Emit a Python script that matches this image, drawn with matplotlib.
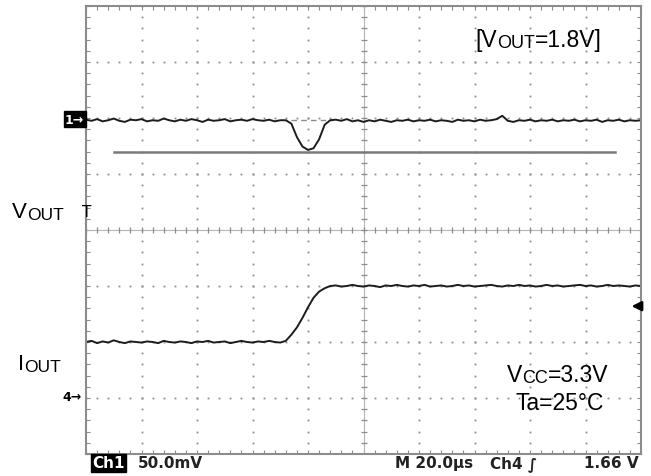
import numpy as np
import matplotlib
matplotlib.use("Agg")
import matplotlib.pyplot as plt

# ===== scope screen: 10 x 8 divisions, values in divisions =====
W, H = 651, 477
X_DIV, Y_DIV = 10, 8

t_ch1 = np.round(np.arange(0, 10.001, 0.1), 2)
ch1_vout = [1.97, 1.95, 1.98, 1.94, 1.96, 1.99, 1.95, 1.93, 1.97, 1.96,
            1.98, 1.94, 1.96, 1.95, 1.99, 1.96, 1.94, 1.97, 1.95, 1.98,
            1.96, 1.93, 1.97, 1.95, 1.96, 1.98, 1.94, 1.96, 1.97, 1.95,
            1.98, 1.96, 1.95, 1.97, 1.94, 1.96,
            1.96, 1.90, 1.66, 1.49, 1.43, 1.46, 1.62, 1.88, 1.96,
            1.97, 1.95, 1.98, 1.94, 1.96,
            1.93, 1.96, 1.94, 1.97, 1.95, 1.93, 1.96, 1.95, 1.97, 1.94,
            1.96, 1.95, 1.97, 1.94, 1.96, 1.95, 1.93, 1.97, 1.95, 1.96,
            1.94, 1.97, 1.95, 1.96, 1.98, 2.04, 1.95, 1.93, 1.96, 1.95,
            1.97, 1.94, 1.96, 1.95, 1.97, 1.94, 1.96, 1.95, 1.97, 1.94,
            1.96, 1.95, 1.97, 1.93, 1.96, 1.95, 1.97, 1.94, 1.96, 1.95,
            1.96]

t_ch4 = t_ch1
ch4_iout = [-2.00, -1.98, -2.02, -1.99, -2.01, -1.97, -2.00, -2.02, -1.99, -2.00,
            -2.01, -1.99, -2.00, -2.02, -1.98, -2.00, -2.01, -1.99, -2.00, -2.02,
            -1.99, -2.00, -1.98, -2.01, -2.00, -1.99, -2.02, -2.00, -1.98, -2.00,
            -2.01, -1.99, -2.00, -1.98, -2.00, -2.01,
            -1.98, -1.87, -1.74, -1.57, -1.38, -1.21, -1.10, -1.04, -1.00,
            -0.99, -1.01, -1.00, -0.98, -1.00,
            -1.01, -0.99, -1.00, -1.02, -0.99, -1.00, -0.98, -1.00, -1.01, -0.99,
            -1.00, -0.98, -1.01, -1.00, -0.99, -1.01, -1.00, -0.98, -1.00, -0.99,
            -1.01, -1.00, -0.99, -0.98, -1.00, -1.01, -0.99, -1.00, -0.98, -1.00,
            -0.99, -1.01, -1.00, -0.98, -1.00, -0.99, -1.01, -1.00, -0.99, -0.98,
            -1.00, -0.99, -1.01, -1.00, -0.98, -1.00, -0.99, -1.00, -1.01, -0.99,
            -1.00]

ref_level = 1.39          # solid reference line under the dip
ref_span = [0.5, 9.53]
cursor_level = 1.96
cursor_span = [3.7, 4.45]
trig_level = -1.36

GRID_C = "#8c8c8c"
TRACE_C = "#1c1c1c"
LABEL_FONT = "Liberation Sans"
SCOPE_FONT = "DejaVu Sans"

fig = plt.figure(figsize=(W / 100, H / 100), dpi=100)
fig.patch.set_facecolor("white")

# main screen axes (pixel box 86..641 x 7..455)
ax = fig.add_axes([86 / W, 1 - 455 / H, 555 / W, 448 / H])
ax.set_xlim(0, X_DIV)
ax.set_ylim(-Y_DIV / 2, Y_DIV / 2)

for sp in ax.spines.values():
    sp.set_color(GRID_C)
    sp.set_linewidth(1.5)
ax.set_xticks(np.arange(0, X_DIV + 0.001, 0.2))
ax.set_yticks(np.arange(-4, 4.001, 0.2))
ax.tick_params(direction="in", length=3, width=0.8, color=GRID_C,
               top=True, right=True, labelbottom=False, labelleft=False)

# dotted graticule
fine_x = np.arange(0, X_DIV + 0.001, 0.2)
fine_y = np.arange(-4, 4.001, 0.2)
for gy in [-3, -2, -1, 1, 2, 3]:
    ax.plot(fine_x, np.full_like(fine_x, gy), ls="none", marker="s",
            ms=1.3, mec="none", mfc=GRID_C)
for gx in [1, 2, 3, 4, 6, 7, 8, 9]:
    ax.plot(np.full_like(fine_y, gx), fine_y, ls="none", marker="s",
            ms=1.3, mec="none", mfc=GRID_C)

# centre cross-hair with minor ticks
ax.axhline(0, color="#b4b4b4", lw=0.8)
ax.axvline(5, color="#b4b4b4", lw=0.8)
ax.plot(fine_x, np.zeros_like(fine_x), ls="none", marker="|", ms=4.5,
        mew=0.9, color=GRID_C)
ax.plot(np.full_like(fine_y, 5), fine_y, ls="none", marker="_", ms=4.5,
        mew=0.9, color=GRID_C)

# reference line and cursor
ax.plot(ref_span, [ref_level, ref_level], color="#7a7a7a", lw=1.8)
ax.plot(cursor_span, [cursor_level, cursor_level], color="#8a8a8a", lw=1.0,
        ls=(0, (4, 3)))

# traces
ax.plot(t_ch1, ch1_vout, color=TRACE_C, lw=1.4)
ax.plot(t_ch4, ch4_iout, color=TRACE_C, lw=1.4)

# trigger level arrow
ax.annotate("", xy=(9.78, trig_level), xytext=(10.02, trig_level),
            arrowprops=dict(arrowstyle="-|>", color="black", lw=1.8,
                            mutation_scale=14),
            annotation_clip=False)

# overlay in pixel coordinates for labels
ov = fig.add_axes([0, 0, 1, 1])
ov.set_xlim(0, W)
ov.set_ylim(H, 0)
ov.axis("off")
ov.patch.set_visible(False)


def cap_text(x, y, parts, big=16.5, small=13):
    """parts: list of (text, is_big) drawn on one baseline"""
    prev = None
    for txt, is_big in parts:
        fs = big if is_big else small
        if prev is None:
            prev = ov.text(x, y, txt, fontsize=fs, family=LABEL_FONT,
                           ha="left", va="bottom")
        else:
            prev = ov.annotate(txt, xy=(1, 0), xycoords=prev, fontsize=fs,
                               family=LABEL_FONT, ha="left", va="bottom")
    return prev


cap_text(475, 52, [("[V", True), ("OUT", False), ("=1.8V]", True)])
cap_text(12, 223, [("V", True), ("OUT", False)], big=16, small=12.5)
cap_text(18, 375, [("I", True), ("OUT", False)], big=16, small=12.5)
cap_text(507, 387, [("V", True), ("CC", False), ("=3.3V", True)])
ov.text(516, 415, "Ta=25°C", fontsize=16.5, family=LABEL_FONT,
        ha="left", va="bottom")

# channel markers
ov.text(65, 120, "1→", fontsize=9, color="white", fontweight="bold",
        ha="left", va="center",
        bbox=dict(boxstyle="square,pad=0.12", fc="black", ec="black"))
ov.text(62, 398, "4→", fontsize=9, color="black", fontweight="bold",
        ha="left", va="center")
ov.text(87, 213, "T", fontsize=11, color="black", ha="center", va="center")

# status line
ov.text(92, 464, "Ch1", fontsize=11, family=SCOPE_FONT, fontweight="bold",
        color="white", ha="left", va="center",
        bbox=dict(boxstyle="square,pad=0.08", fc="black", ec="black"))
ov.text(138, 464, "50.0mV", fontsize=11, family=SCOPE_FONT,
        fontweight="bold", color="#222222", ha="left", va="center")
ov.text(395, 464, "M 20.0µs", fontsize=11, family=SCOPE_FONT,
        fontweight="bold", color="#222222", ha="left", va="center")
ov.text(490, 464, "Ch4 ∫", fontsize=11, family=SCOPE_FONT,
        fontweight="bold", color="#222222", ha="left", va="center")
ov.text(639, 464, "1.66 V", fontsize=11, family=SCOPE_FONT,
        fontweight="bold", color="#222222", ha="right", va="center")

fig.savefig("out.png", dpi=100)
